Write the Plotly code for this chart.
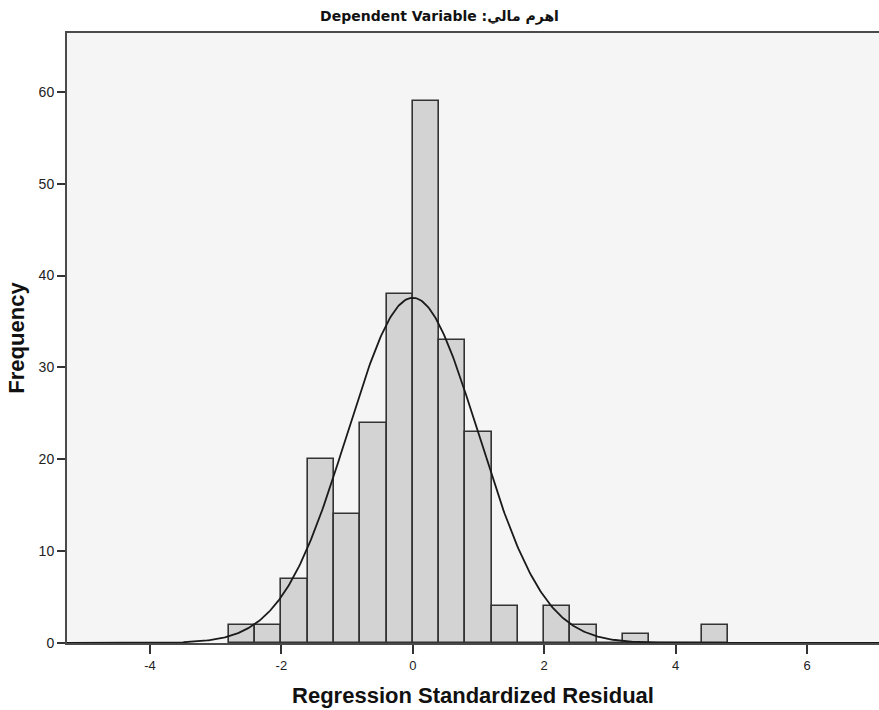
import numpy as np
import plotly.graph_objects as go

# Histogram data (bin centers, width 0.4)
bin_centers = [-2.6, -2.2, -1.8, -1.4, -1.0, -0.6, -0.2, 0.2, 0.6, 1.0, 1.4, 1.8, 2.2, 2.6, 3.0, 3.4, 3.8, 4.2, 4.6]
counts = [2, 2, 7, 20, 14, 24, 38, 59, 33, 23, 4, 0, 4, 2, 0, 1, 0, 0, 2]
bin_width = 0.4
mean_resid = 0.0
std_resid = 0.998
n_obs = sum(counts)

x_ticks = [-4, -2, 0, 2, 4, 6]
y_ticks = [0, 10, 20, 30, 40, 50, 60]

font_main = "Liberation Sans, Arial, sans-serif"

fig = go.Figure()
fig.add_trace(go.Bar(
    x=bin_centers, y=counts, width=bin_width,
    marker=dict(color="#d3d3d3", line=dict(color="#333333", width=1.6)),
    showlegend=False, hoverinfo="x+y"))

xc = np.linspace(-5.3, 7.2, 600)
yc = n_obs * bin_width / (std_resid * np.sqrt(2 * np.pi)) * np.exp(-0.5 * ((xc - mean_resid) / std_resid) ** 2)
fig.add_trace(go.Scatter(x=xc, y=yc, mode="lines", line=dict(color="#1a1a1a", width=1.8),
                         showlegend=False, hoverinfo="skip"))

fig.update_layout(
    width=879, height=710,
    margin=dict(l=67, r=0, t=33, b=67),
    paper_bgcolor="white", plot_bgcolor="#f5f5f5",
    bargap=0,
    title=dict(text="<b>Dependent Variable \u200e:\u200eاهرم مالي</b>", x=0.5, xanchor="center",
               y=1 - 16/710, yanchor="middle",
               font=dict(family="DejaVu Sans, sans-serif", size=14, color="#111")),
    xaxis=dict(range=[-5.263, 7.096], tickvals=x_ticks, ticktext=[str(v) for v in x_ticks],
               showgrid=False, zeroline=False, showline=True, linecolor="#4a4a4a", linewidth=2,
               mirror=True, ticks="outside", ticklen=9, tickwidth=2, tickcolor="#333",
               tickfont=dict(family=font_main, size=13, color="#222"),
               title=dict(text="<b>Regression Standardized Residual</b>", standoff=16,
                          font=dict(family=font_main, size=22, color="#111"))),
    yaxis=dict(range=[0, 66.4], tickvals=y_ticks, showgrid=False, zeroline=False,
               showline=True, linecolor="#4a4a4a", linewidth=2, mirror=False,
               ticks="outside", ticklen=8, tickwidth=2, tickcolor="#333",
               tickfont=dict(family=font_main, size=14, color="#222"),
               title=dict(text="<b>Frequency</b>", standoff=8,
                          font=dict(family=font_main, size=22, color="#111"))),
)

fig.write_html("out.html")
